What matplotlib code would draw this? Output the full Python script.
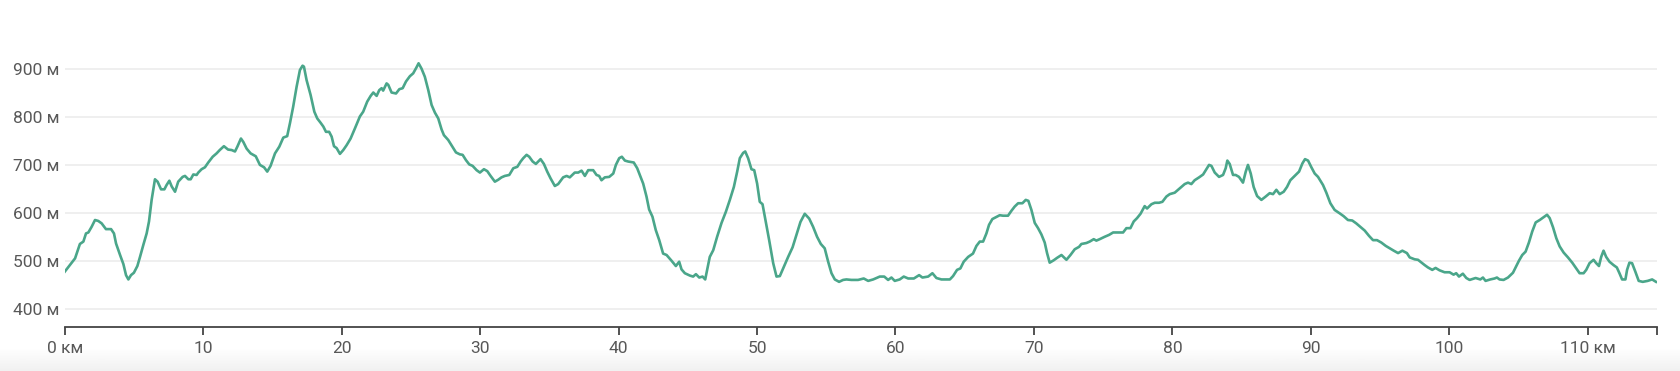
import numpy as np
import matplotlib.pyplot as plt
from matplotlib.colors import LinearSegmentedColormap

# elevation profile
km = [
    0.0, 0.75, 1.1, 1.35, 1.54, 1.71, 1.95, 2.19, 2.43, 2.67, 2.98, 3.35, 3.56, 3.71, 4.0, 4.24,
    4.43, 4.6, 4.79, 5.0, 5.25, 5.44, 5.68, 5.92, 6.09, 6.28, 6.52, 6.71, 6.96, 7.2, 7.36, 7.56,
    7.73, 7.97, 8.2, 8.52, 8.69, 8.93, 9.1, 9.29, 9.53, 9.65, 9.89, 10.13, 10.37, 10.69, 10.97,
    11.2, 11.5, 11.8, 12.06, 12.3, 12.47, 12.73, 12.9, 13.14, 13.43, 13.8, 14.1, 14.4, 14.63,
    14.87, 15.19, 15.5, 15.79, 16.07,
    16.27, 16.5, 16.75, 16.99, 17.18, 17.28, 17.47, 17.76, 18.03, 18.24, 18.48, 18.68, 18.87,
    19.1, 19.28, 19.45, 19.64, 19.88, 20.12, 20.36, 20.65, 20.96, 21.32, 21.56, 21.85, 22.1,
    22.29, 22.53, 22.72, 22.89, 23.0, 23.25, 23.37, 23.61, 23.93, 24.17, 24.41, 24.65, 24.93,
    25.17, 25.4, 25.56, 25.77, 26.01, 26.26, 26.5, 26.74, 26.98, 27.22, 27.39, 27.7, 27.94,
    28.26, 28.54, 28.74, 28.98, 29.22, 29.46, 29.75, 29.99, 30.28, 30.52, 30.76, 31.07, 31.31,
    31.55, 31.79, 32.11, 32.4, 32.69, 32.93, 33.12, 33.36, 33.55, 33.8, 34.03, 34.37, 34.61,
    34.85, 35.09, 35.4, 35.64,
    36.0, 36.25, 36.48, 36.84, 37.09, 37.33, 37.57, 37.81, 38.17, 38.41, 38.6, 38.77, 39.01,
    39.33, 39.62, 39.81, 40.05, 40.24, 40.46, 40.7, 41.1, 41.35, 41.54, 41.78, 42.02, 42.21,
    42.45, 42.69, 42.94, 43.22, 43.47, 43.83, 44.14, 44.38, 44.55, 44.79, 45.16, 45.39, 45.59,
    45.83, 46.07, 46.26, 46.4, 46.59, 46.84, 47.12, 47.44, 47.75, 48.04, 48.33, 48.57, 48.76,
    49.0, 49.15, 49.36, 49.6, 49.8, 50.01, 50.2, 50.4, 50.64, 50.88, 51.17, 51.41, 51.65, 51.89,
    52.25, 52.57, 52.85, 53.14, 53.45, 53.77, 54.05, 54.34, 54.61, 54.89, 55.14, 55.38, 55.62,
    55.93,
    56.22, 56.46, 56.82, 57.3, 57.71, 58.03, 58.39, 58.87, 59.19, 59.47, 59.71, 59.95, 60.31,
    60.6, 60.92, 61.33, 61.71, 61.95, 62.36, 62.67, 62.96, 63.32, 63.93, 64.16, 64.45, 64.69,
    64.93, 65.25, 65.6, 65.85, 66.09, 66.33, 66.57, 66.76, 67.0, 67.34, 67.53, 67.77, 68.13,
    68.37, 68.61, 68.86, 69.17, 69.41, 69.6, 69.82, 70.06, 70.3, 70.54, 70.78, 70.95, 71.14,
    71.43, 71.67, 71.99, 72.35, 72.64, 72.95, 73.26, 73.43, 73.79, 74.03, 74.32, 74.51, 74.75,
    75.11, 75.43, 75.72, 76.08,
    76.44, 76.68, 76.97, 77.21, 77.45, 77.7, 78.0, 78.17, 78.49, 78.73, 79.04, 79.28, 79.57,
    79.81, 80.17, 80.41, 80.65, 80.89, 81.13, 81.37, 81.61, 81.93, 82.22, 82.41, 82.65, 82.82,
    83.06, 83.37, 83.66, 83.85, 83.97, 84.14, 84.38, 84.57, 84.81, 85.1, 85.3, 85.46, 85.66,
    85.87, 86.12, 86.43, 86.74, 87.03, 87.27, 87.51, 87.75, 88.04, 88.28, 88.52, 88.84, 89.15,
    89.39, 89.58, 89.8, 90.04, 90.28, 90.52, 90.88, 91.12, 91.41, 91.72, 92.08, 92.37, 92.68,
    92.99, 93.28, 93.57, 93.89, 94.2, 94.49, 94.78, 95.09, 95.41, 95.7, 95.99, 96.3, 96.61,
    96.94, 97.14, 97.5, 97.74, 97.91, 98.22, 98.46, 98.77, 99.01, 99.3, 99.66, 100.02, 100.31,
    100.5, 100.7, 100.98, 101.23, 101.47, 101.9, 102.24, 102.43, 102.62, 102.96, 103.27,
    103.44, 103.63, 103.92, 104.24, 104.6, 104.84, 105.03, 105.27, 105.51, 105.75, 105.99,
    106.24, 106.53, 106.82, 107.06, 107.25, 107.49, 107.73, 107.97, 108.26, 108.57, 108.88,
    109.17, 109.41, 109.7, 109.89, 110.13, 110.42, 110.61, 110.81, 110.97, 111.14, 111.33,
    111.57, 111.86, 112.1, 112.29, 112.48, 112.72, 112.84, 113.01, 113.2, 113.44, 113.68,
    113.97, 114.33, 114.65, 114.93,
]
elevation = [
    477, 505, 535, 540, 557, 559, 571, 585, 583, 578, 566, 566, 557, 536, 512, 493,
    470, 461, 470, 475, 489, 508, 533, 557, 582, 627, 670, 665, 649, 649, 658, 667,
    655, 644, 665, 675, 677, 670, 670, 680, 679, 684, 691, 695, 705, 717, 724,
    731, 739, 732, 731, 728, 738, 755, 748, 734, 724, 718, 700, 695, 686,
    698, 724, 738, 757, 760,
    787, 821, 863, 898, 907, 905, 877, 846, 811, 797, 788, 780, 769,
    769, 759, 739, 735, 723, 731, 741, 755, 776, 801, 811, 832, 844,
    851, 844, 856, 860, 855, 870, 867, 851, 849, 858, 860, 874, 885,
    891, 903, 912, 901, 884, 856, 825, 809, 797, 774, 762, 752, 741,
    726, 722, 721, 710, 701, 698, 689, 684, 691, 687, 677, 665, 669,
    674, 677, 679, 693, 696, 707, 714, 721, 717, 707, 702, 712, 702,
    686, 672, 656, 660,
    674, 677, 674, 684, 684, 688, 677, 689, 689, 679, 677, 668, 674,
    675, 682, 700, 714, 717, 709, 707, 705, 693, 679, 661, 634, 607,
    592, 564, 543, 515, 512, 500, 489, 498, 482, 474, 469, 467, 472,
    465, 467, 461, 481, 508, 522, 550, 579, 602, 627, 654, 686, 714,
    725, 728, 714, 691, 689, 661, 623, 618, 581, 543, 495, 467, 468, 484,
    508, 528, 554, 581, 598, 588, 571, 550, 535, 526, 498, 474, 461,
    456,
    460, 461, 460, 460, 463, 458, 461, 467, 467, 460, 465, 458, 461,
    467, 463, 463, 470, 465, 467, 474, 464, 461, 461, 468, 481, 484,
    498, 508, 515, 531, 540, 540, 557, 575, 587, 592, 595, 594, 594,
    604, 613, 620, 620, 627, 625, 606, 579, 568, 555, 538, 516, 496,
    501, 506, 512, 502, 512, 524, 529, 535, 537, 540, 545, 542, 545,
    550, 554, 559, 559,
    559, 568, 568, 582, 589, 598, 614, 609, 618, 621, 621, 623, 634,
    639, 642, 648, 654, 660, 663, 660, 668, 674, 680, 689, 700, 698,
    684, 675, 679, 693, 709, 702, 679, 679, 675, 663, 686, 700, 682,
    654, 635, 627, 634, 641, 639, 648, 639, 644, 654, 668, 677, 686,
    703, 712, 709, 695, 682, 675, 658, 642, 620, 606, 599, 593, 585,
    584, 578, 571, 563, 552, 543, 543, 538, 531, 526, 521, 516, 521,
    516, 507, 503, 502, 498, 491, 486, 481, 485, 480, 476, 476, 471,
    474, 467, 473, 464, 460, 464, 461, 465, 458, 461, 463,
    465, 461, 460, 465, 475, 489, 500, 512, 519, 538, 561,
    580, 585, 591, 596, 589, 570, 547, 530, 517, 507, 496,
    484, 474, 474, 481, 495, 502, 495, 489, 508, 521, 508,
    498, 491, 486, 474, 461, 461, 481, 496, 495, 477, 458,
    456, 458, 461, 456,
]

y_ticks = [400, 500, 600, 700, 800, 900]
y_labels = ['400 м', '500 м', '600 м', '700 м', '800 м', '900 м']
x_ticks = [0, 10, 20, 30, 40, 50, 60, 70, 80, 90, 100, 110, 115]
x_labels = ['0 км', '10', '20', '30', '40', '50', '60', '70', '80', '90', '100', '110 км', '']

plt.rcParams['font.family'] = ['Roboto', 'DejaVu Sans']

fig = plt.figure(figsize=(16.8, 3.71), dpi=100)

# faint grey fade along the bottom edge
fade = fig.add_axes([0, 0, 1, 0.06], zorder=0)
fade_cmap = LinearSegmentedColormap.from_list('fade', ['#f1f1f1', '#ffffff'])
fade.imshow(np.linspace(0, 1, 50).reshape(-1, 1), cmap=fade_cmap, aspect='auto',
            origin='lower', extent=[0, 1, 0, 1])
fade.axis('off')

ax = fig.add_axes([0.0385, 0.1194, 0.9478, 0.8237], zorder=1)
ax.patch.set_alpha(0)

ax.plot(km, elevation, color='#4aa68a', linewidth=1.9, solid_joinstyle='round', zorder=3)

ax.set_xlim(0, 115)
ax.set_ylim(362.4, 1000)
ax.set_yticks(y_ticks)
ax.set_yticklabels(y_labels)
ax.set_xticks(x_ticks)
ax.set_xticklabels(x_labels)

ax.grid(axis='y', color='#ececec', linewidth=1.2)
ax.set_axisbelow(True)
for side in ['top', 'right', 'left']:
    ax.spines[side].set_visible(False)
ax.spines['bottom'].set_color('#444444')
ax.spines['bottom'].set_linewidth(1.3)
ax.tick_params(axis='y', length=0, pad=4, labelsize=12.5, labelcolor='#585858')
ax.tick_params(axis='x', length=6, width=1.3, color='#444444', pad=4,
               labelsize=12.5, labelcolor='#585858')

fig.savefig('out.png', dpi=100)
